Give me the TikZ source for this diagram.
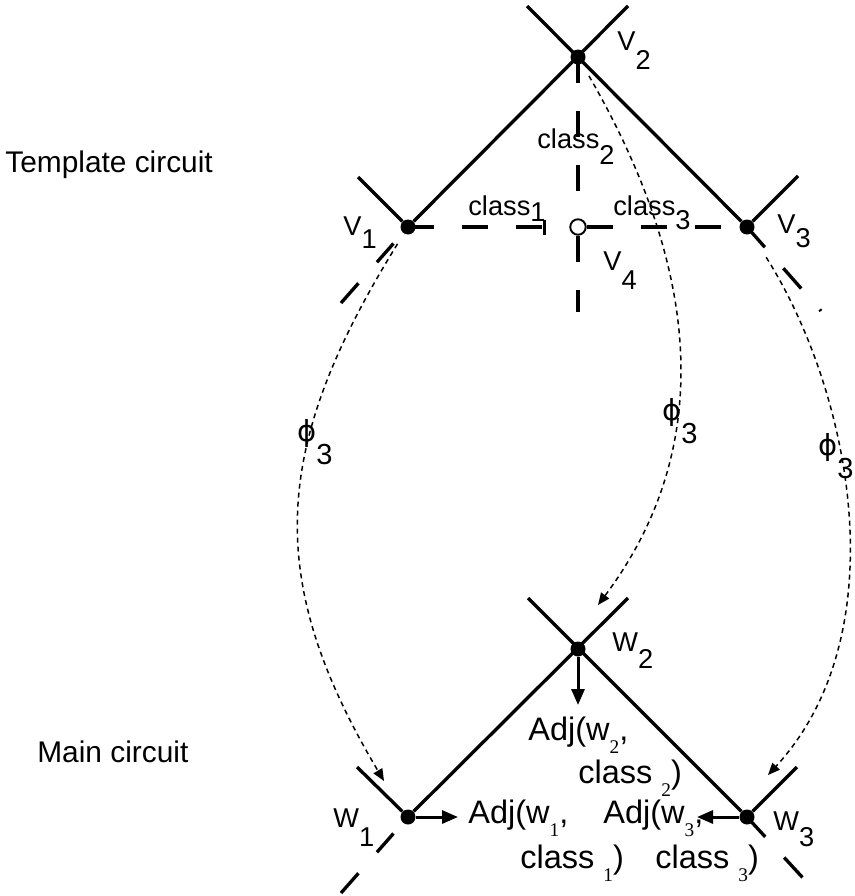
\documentclass[tikz,border=0pt]{standalone}
\usepackage{fontspec}
\setmainfont{Liberation Sans}
\newfontfamily\subserif{Liberation Serif}
\newfontfamily\phifont{DejaVu Sans}
\usetikzlibrary{arrows.meta}

\newcommand{\lowsub}[2][0.6em]{\raisebox{-#1}{#2}}
\newcommand{\adjsub}[1]{\raisebox{-0.4em}{\subserif\fontsize{11}{13}\selectfont #1}}

\tikzset{
  wire/.style={line width=1.9pt},
  classline/.style={line width=1.9pt, dash pattern=on 5.2mm off 5.6mm},
  mapline/.style={line width=0.85pt, dash pattern=on 1mm off 0.8mm, -{Triangle[length=2.4mm,width=2mm]}},
  adjarrow/.style={line width=1.7pt, -{Triangle[length=3.2mm,width=2.6mm]}},
  vertex/.style={circle, fill=black, inner sep=0pt, minimum size=3mm},
  hollow/.style={circle, draw=black, fill=white, line width=1.1pt, inner sep=0pt, minimum size=3.1mm},
  vlabel/.style={inner sep=0pt, anchor=base west, font=\fontsize{15.5}{18}\selectfont},
  classlabel/.style={inner sep=0pt, anchor=base west, font=\fontsize{15.5}{18}\selectfont},
  adjlabel/.style={inner sep=0pt, anchor=base west, font=\fontsize{18.5}{22}\selectfont},
  maplabel/.style={inner sep=0pt, anchor=base west, font=\fontsize{16.5}{20}\selectfont},
  title/.style={inner sep=0pt, anchor=base west, font=\fontsize{17}{20}\selectfont}
}

\begin{document}
\begin{tikzpicture}[x=0.02cm, y=-0.02cm]
        \useasboundingbox (0,0) rectangle (855,896);

        % Titles
        \node[title] (tmpl) at (5,172) {Template circuit};
        \node[title] (mainc) at (37,762) {Main circuit};

        % Template circuit vertices
        \node[vertex] (v1) at (408,227) {};
        \node[vertex] (v2) at (578,57) {};
        \node[vertex] (v3) at (747,227) {};
        \node[hollow] (v4) at (578,227) {};

        % Main circuit vertices
        \node[vertex] (w1) at (408,817) {};
        \node[vertex] (w2) at (578,649) {};
        \node[vertex] (w3) at (747,817) {};

        % Free ends of the wires
        \coordinate (v2nw) at (527,6);
        \coordinate (v2ne) at (628,6);
        \coordinate (v1nw) at (358,177);
        \coordinate (v3ne) at (798,176);
        \coordinate (v1x) at (341,303);
        \coordinate (v3x) at (821,311);
        \coordinate (v4s) at (578,312);
        \coordinate (w2nw) at (528,598);
        \coordinate (w2ne) at (628,598);
        \coordinate (w1nw) at (357,767);
        \coordinate (w3ne) at (797,767);
        \coordinate (w1x) at (341,893);
        \coordinate (w3x) at (803,878);

        % Template circuit wires
        \draw[wire] (v2nw) -- (v3);
        \draw[wire] (v2ne) -- (v1);
        \draw[wire] (v1nw) -- (v1);
        \draw[wire] (v3ne) -- (v3);
        \draw[wire, dash pattern=on 0mm off 4.4mm on 5mm off 5.6mm on 5mm] (v1.center) -- (v1x);
        \draw[wire, dash pattern=on 5.4mm off 5.6mm] (v3.center) -- (v3x);

        % Class edges to v4
        \draw[classline, -{Bar[width=3mm]}, shorten >=4.6mm] (v1.center) -- (v4);
        \draw[classline] (v4) -- (v3);
        \draw[classline] (v2.center) -- (v4);
        \draw[classline] (v4) -- (v4s);

        % Main circuit wires
        \draw[wire] (w2nw) -- (w3);
        \draw[wire] (w2ne) -- (w1);
        \draw[wire] (w1nw) -- (w1);
        \draw[wire] (w3ne) -- (w3);
        \draw[wire, dash pattern=on 0mm off 4.4mm on 5mm off 5.6mm on 5mm] (w1.center) -- (w1x);
        \draw[wire, dash pattern=on 5.4mm off 5.6mm] (w3.center) -- (w3x);

        % Vertex labels
        \node[vlabel] (lv1) at (343,235) {V\lowsub[0.5em]{1}};
        \node[vlabel] (lv2) at (617,50) {V\lowsub[0.7em]{2}};
        \node[vlabel] (lv3) at (777,233) {V\lowsub[0.55em]{3}};
        \node[vlabel] (lv4) at (603,270) {V\lowsub[0.7em]{4}};
        \node[vlabel] (lw1) at (333,827) {W\lowsub[0.7em]{1}};
        \node[vlabel] (lw2) at (612,651) {W\lowsub[0.65em]{2}};
        \node[vlabel] (lw3) at (773,830) {W\lowsub[0.6em]{3}};

        % Class labels
        \node[classlabel] (cl1) at (468,215) {class\lowsub[0.25em]{1}};
        \node[classlabel] (cl2) at (537,148) {class\lowsub[0.6em]{2}};
        \node[classlabel] (cl3) at (613,215) {class\lowsub[0.55em]{3}};

        % Mapping phi_3 from template to main circuit
        \coordinate (t1) at (384,781);
        \coordinate (t2) at (598,605);
        \coordinate (t3) at (768,775);
        \draw[mapline, shorten <=2.4mm] (v1) .. controls (271,448) and (264,579) .. (t1);
        \draw[mapline, shorten <=2.8mm] (v2) .. controls (718,299) and (700,469) .. (t2);
        \draw[mapline, shorten <=5.6mm] (v3) .. controls (852,393) and (898,634) .. (t3);
        \node[maplabel] (phi1) at (297,441) {{\phifont ϕ}\lowsub[0.8em]{3}};
        \node[maplabel] (phi2) at (662,420) {{\phifont ϕ}\lowsub[0.8em]{3}};
        \node[maplabel] (phi3) at (818,455) {{\phifont ϕ}\lowsub[0.8em]{3}};

        % Adjacency arrows
        \coordinate (a1) at (458,817);
        \coordinate (a2) at (578,705);
        \coordinate (a3) at (697,817);
        \draw[adjarrow] (w1) -- (a1);
        \draw[adjarrow] (w2) -- (a2);
        \draw[adjarrow] (w3) -- (a3);

        % Adjacency labels
        \node[adjlabel] (adj2a) at (528,740) {Adj(w\adjsub{2},};
        \node[adjlabel] (adj2b) at (578,783) {class \adjsub{2})};
        \node[adjlabel] (adj1a) at (468,823) {Adj(w\adjsub{1},};
        \node[adjlabel] (adj1b) at (520,868) {class \adjsub{1})};
        \node[adjlabel] (adj3a) at (603,823) {Adj(w\adjsub{3},};
        \node[adjlabel] (adj3b) at (655,868) {class \adjsub{3})};
\end{tikzpicture}
\end{document}
